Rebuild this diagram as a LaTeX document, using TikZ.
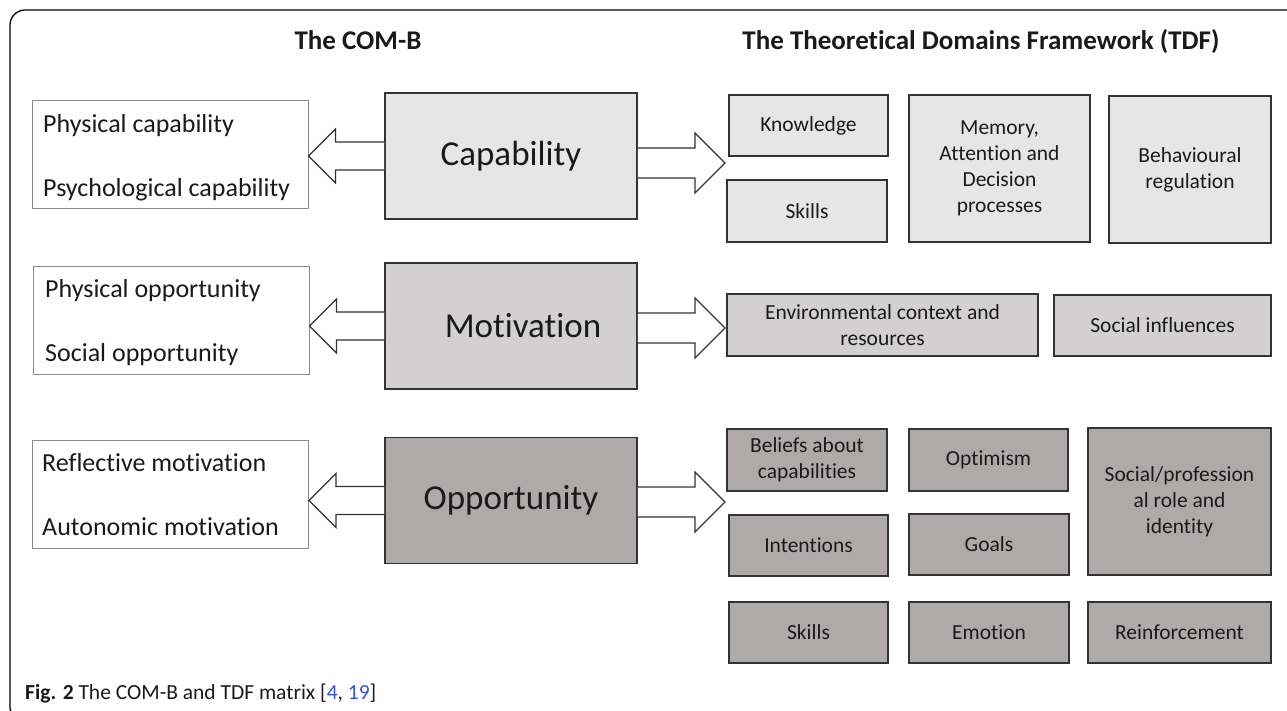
\documentclass[tikz,border=0pt]{standalone}
\usepackage{fontspec}
\setmainfont{Carlito}[Ligatures={NoCommon,NoContextual,NoRequired},RawFeature=-ccmp,RawFeature=-calt]
\usetikzlibrary{calc}
\definecolor{cA}{HTML}{E6E6E6}
\definecolor{cB}{HTML}{D3D0D1}
\definecolor{cC}{HTML}{AEAAAA}
\definecolor{edge}{HTML}{333333}
\definecolor{lgray}{HTML}{8A8A8A}
\definecolor{lnk}{HTML}{2F55D4}
\definecolor{txt}{HTML}{1A1A1A}
\newcommand\fatL[2]{%
 \draw[fatarr] let \p1=(#1.west), \p2=(#2.east) in
  (\x1,\y1-14pt) -- (\x2+27pt,\y1-14pt) -- (\x2+27pt,\y1-27pt) -- (\x2,\y1)
  -- (\x2+27pt,\y1+27pt) -- (\x2+27pt,\y1+14pt) -- (\x1,\y1+14pt);}
\newcommand\fatR[2]{%
 \draw[fatarr] let \p1=(#1.east), \p2=(#2) in
  (\x1,\y2-15pt) -- (\x2-30pt,\y2-15pt) -- (\x2-30pt,\y2-30pt) -- (\x2,\y2)
  -- (\x2-30pt,\y2+30pt) -- (\x2-30pt,\y2+15pt) -- (\x1,\y2+15pt);}
\begin{document}
\begin{tikzpicture}[x=1pt,y=-1pt,
  dbox/.style={draw=edge, line width=1.6pt, inner sep=0pt, align=center, text=txt,
     font=\fontsize{21.5}{26}\selectfont},
  cbox/.style={dbox, minimum width=252pt, minimum height=126pt, font=\fontsize{35}{40}\selectfont},
  lbox/.style={draw=lgray, line width=1pt, fill=white, minimum width=276pt, minimum height=108pt, inner sep=0pt},
  ltext/.style={anchor=base west, inner sep=0pt, text=txt, font=\fontsize{26}{30}\selectfont},
  title/.style={anchor=base, inner sep=0pt, text=txt, font=\fontsize{27}{32}\selectfont\bfseries},
  fatarr/.style={draw=edge, line width=1.2pt, fill=white, line join=miter}
]
\useasboundingbox (0,0) rectangle (1287,710);
\fill[white] (0,0) rectangle (1287,710);
% frame
\draw[black, line width=1.3pt, rounded corners=15pt] (1295,10) -- (10,10) [rounded corners=6pt] -- (10,714) -- (30,714);

% titles
\node[title] (t1) at (358,49) {The COM-B};
\node[title] (t2) at (981,49) {The Theoretical Domains Framework (TDF)};

% left boxes
\node[lbox] (L1) at (170,154.5) {};
\node[lbox] (L2) at (171,320.5) {};
\node[lbox] (L3) at (170.5,494.5) {};
\node[ltext] (L1a) at (43,132) {Physical capability};
\node[ltext] (L1b) at (43,196) {Psychological capability};
\node[ltext] (L2a) at (45,297) {Physical opportunity};
\node[ltext] (L2b) at (45,361) {Social opportunity};
\node[ltext] (L3a) at (42,471) {Reflective motivation};
\node[ltext] (L3b) at (42,535) {Autonomic motivation};

% central boxes
\node[cbox, fill=cA] (C1) at (511,156) {Capability};
\node[cbox, fill=cB] (C2) at (511,326) {\hspace*{24pt}Motivation};
\node[cbox, fill=cC] (C3) at (511,500.5) {Opportunity};

% TDF row 1
\node[dbox, fill=cA, minimum width=159pt, minimum height=61pt] (K) at (808.5,125.5) {Knowledge};
\node[dbox, fill=cA, minimum width=160pt, minimum height=62pt] (S1) at (807,211) {Skills};
\node[dbox, fill=cA, minimum width=181pt, minimum height=147pt] (Mem) at (999.5,168.5) {Memory,\\Attention and\\Decision\\processes};
\node[dbox, fill=cA, minimum width=162pt, minimum height=147pt] (Beh) at (1190,169.5) {Behavioural\\regulation};

% TDF row 2
\node[dbox, fill=cB, minimum width=311pt, minimum height=62pt] (Env) at (882.5,325) {Environmental context and\\resources};
\node[dbox, fill=cB, minimum width=217pt, minimum height=61pt] (Soc) at (1162.5,325.5) {Social influences};

% TDF row 3
\node[dbox, fill=cC, minimum width=160pt, minimum height=62pt] (Bel) at (807,460) {Beliefs about\\capabilities};
\node[dbox, fill=cC, minimum width=159pt, minimum height=62pt] (Opt) at (988.5,460) {Optimism};
\node[dbox, fill=cC, minimum width=183pt, minimum height=147pt] (SPR) at (1179.5,501.5) {Social/profession\\al role and\\identity};
\node[dbox, fill=cC, minimum width=159pt, minimum height=61pt] (Int) at (808.5,545.5) {Intentions};
\node[dbox, fill=cC, minimum width=160pt, minimum height=61pt] (Goa) at (989,544.5) {Goals};
\node[dbox, fill=cC, minimum width=159pt, minimum height=61pt] (S2) at (808.5,632.5) {Skills};
\node[dbox, fill=cC, minimum width=160pt, minimum height=61pt] (Emo) at (989,632.5) {Emotion};
\node[dbox, fill=cC, minimum width=183pt, minimum height=61pt] (Rei) at (1179.5,632.5) {Reinforcement};

% arrow tips
\coordinate (T1) at (725,163);
\coordinate (T2) at (725,328);
\coordinate (T3) at (725,502);

% arrows
\fatL{C1}{L1}
\fatL{C2}{L2}
\fatL{C3}{L3}
\fatR{C1}{T1}
\fatR{C2}{T2}
\fatR{C3}{T3}

% caption
\node[anchor=base west, inner sep=0pt, text=txt, font=\fontsize{21.5}{24}\selectfont] (cap) at (25,699)
  {\textbf{Fig. 2} The COM-B and TDF matrix [\textcolor{lnk}{4}, \textcolor{lnk}{19}]};
\end{tikzpicture}
\end{document}
